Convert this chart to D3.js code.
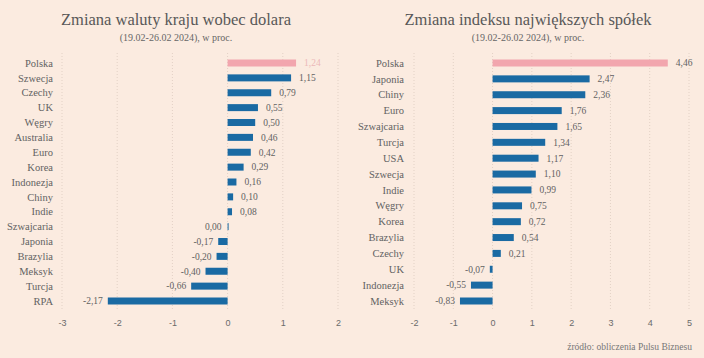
<!DOCTYPE html>
<html><head><meta charset="utf-8">
<script src="https://cdn.jsdelivr.net/npm/d3@7"></script>
<style>
html,body{margin:0;padding:0;background:#fbebe0;}
svg{display:block;font-family:"Liberation Serif","DejaVu Serif",serif;}
</style></head>
<body><svg id="c" width="704" height="358"></svg>
<script>
const leftCategories = ["Polska","Szwecja","Czechy","UK","Węgry","Australia","Euro","Korea","Indonezja","Chiny","Indie","Szwajcaria","Japonia","Brazylia","Meksyk","Turcja","RPA"];
const leftValues = [1.24,1.15,0.79,0.55,0.50,0.46,0.42,0.29,0.16,0.10,0.08,0.00,-0.17,-0.20,-0.40,-0.66,-2.17];
const leftTicks = [-3,-2,-1,0,1,2];

const rightCategories = ["Polska","Japonia","Chiny","Euro","Szwajcaria","Turcja","USA","Szwecja","Indie","Węgry","Korea","Brazylia","Czechy","UK","Indonezja","Meksyk"];
const rightValues = [4.46,2.47,2.36,1.76,1.65,1.34,1.17,1.10,0.99,0.75,0.72,0.54,0.21,-0.07,-0.55,-0.83];
const rightTicks = [-2,-1,0,1,2,3,4,5];

const titles = ["Zmiana waluty kraju wobec dolara","Zmiana indeksu największych spółek"];
const subtitle = "(19.02-26.02 2024), w proc.";
const source = "źródło: obliczenia Pulsu Biznesu";

const svg = d3.select("#c");
svg.append("rect").attr("width",704).attr("height",358).attr("fill","#fbebe0");
const fmt = v => d3.format(".2f")(v).replace(".",",").replace("−","-");
const BLUE = "#1a6aa3", PINK = "#f2a6ae", TXT = "#626262";

function panel(cats, vals, ticks, x0, x1, yTop, yBot, labelRight, titleX, title){
  const x = d3.scaleLinear().domain([ticks[0], ticks[ticks.length-1]]).range([x0,x1]);
  const y = d3.scalePoint().domain(cats).range([yTop,yBot]);
  const g = svg.append("g");
  g.selectAll(".grid").data(ticks).join("line")
    .attr("x1",d=>x(d)).attr("x2",d=>x(d)).attr("y1",yTop-10).attr("y2",yBot+10)
    .attr("stroke","#e2d1c5").attr("stroke-width",1).attr("stroke-dasharray","1,2");
  const ax = g.append("g").attr("transform",`translate(0,${yBot+16})`)
    .call(d3.axisBottom(x).tickValues(ticks).tickSize(0).tickFormat(d=>String(d)));
  ax.select(".domain").remove();
  ax.selectAll("text").attr("fill","#6a6a6a").attr("font-size",9).attr("font-family","Liberation Sans, Arial, sans-serif");
  g.selectAll(".cat").data(cats).join("text")
    .attr("x",labelRight).attr("y",d=>y(d)).attr("dy","0.35em").attr("text-anchor","end")
    .attr("fill",TXT).attr("font-size",10.5).text(d=>d);
  const bh = 7;
  const data = cats.map((c,i)=>({c,v:vals[i],i}));
  g.selectAll(".bar").data(data).join("rect")
    .attr("x",d=>x(Math.min(0,d.v))).attr("width",d=>Math.max(1,Math.abs(x(d.v)-x(0))))
    .attr("y",d=>y(d.c)-bh/2).attr("height",bh)
    .attr("fill",d=>d.i===0?PINK:BLUE);
  g.selectAll(".val").data(data).join("text")
    .attr("x",d=>d.v>=0 ? x(d.v)+(d.v===0?-6:8) : x(d.v)-5)
    .attr("y",d=>y(d.c)).attr("dy","0.35em")
    .attr("text-anchor",d=>d.v>0?"start":"end")
    .attr("fill",d=>d.i===0 && title===titles[0] ? "#ecb8b8" : TXT)
    .attr("font-size",9.5).text(d=>fmt(d.v));
  svg.append("text").attr("x",titleX).attr("y",25).attr("text-anchor","middle")
    .attr("fill","#585858").attr("font-size",16.5).text(title);
  svg.append("text").attr("x",titleX).attr("y",41).attr("text-anchor","middle")
    .attr("fill","#666").attr("font-size",10).text(subtitle);
}
panel(leftCategories,leftValues,leftTicks,62,338,63,301,53,176,titles[0]);
panel(rightCategories,rightValues,rightTicks,414,689,63,301,404,528,titles[1]);
svg.append("text").attr("x",692).attr("y",350).attr("text-anchor","end")
  .attr("fill","#777").attr("font-size",9.5).text(source);
</script></body></html>
